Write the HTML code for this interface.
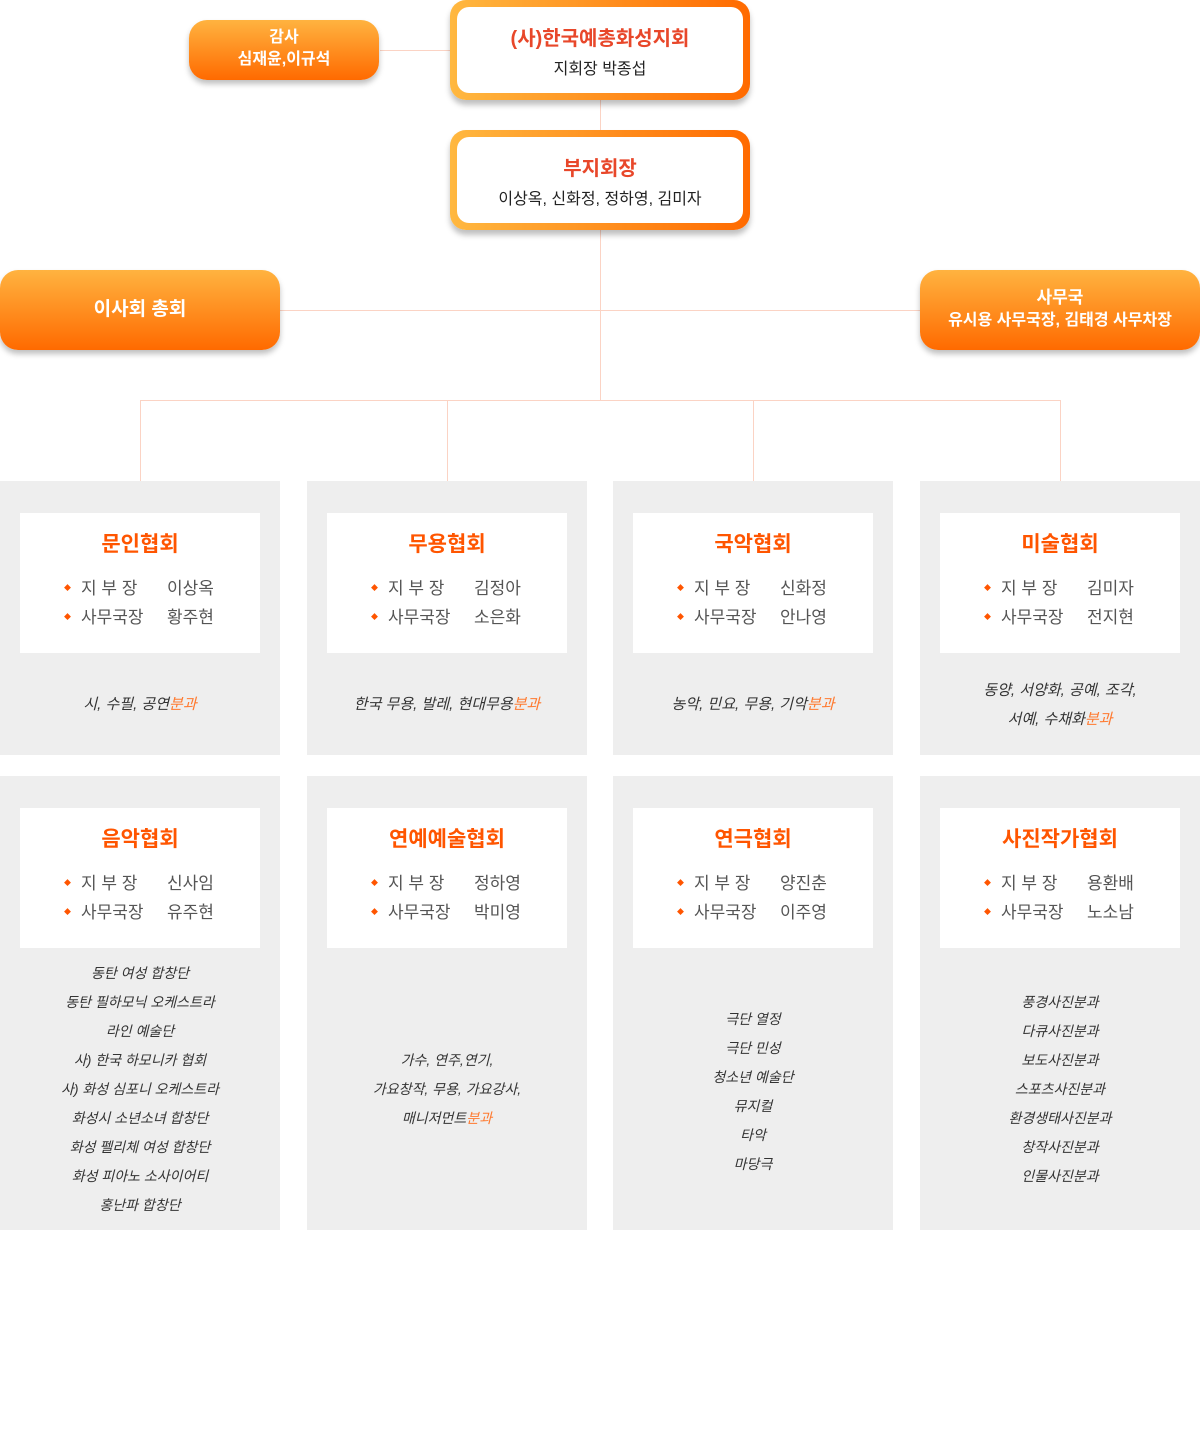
<!DOCTYPE html>
<html><head><meta charset="utf-8"><style>
*{margin:0;padding:0;box-sizing:border-box}
body{width:1200px;height:1455px;background:#fff;position:relative;font-family:"Liberation Sans","Noto Sans CJK KR",sans-serif;overflow:hidden}
.ln{position:absolute;background:#fbd3c4}
.ob{position:absolute;border-radius:18px;background:linear-gradient(#ffb340,#ff6a00);color:#fff;text-align:center;box-shadow:0 4px 6px rgba(0,0,0,.25);font-weight:bold}
.wb{position:absolute;border-radius:16px;background:linear-gradient(90deg,#ffb840,#ff6a00);padding:7px;box-shadow:0 5px 6px rgba(0,0,0,.25)}
.wb div.in{background:#fff;border-radius:12px;width:100%;height:100%;text-align:center}
.t{color:#e8472a;font-weight:bold;font-size:20px}
.s{color:#222;font-size:16px}
.p{position:absolute;background:#eeeeee;width:280px}
.w{position:absolute;left:20px;top:32px;width:240px;height:140px;background:#fff}
.h{text-align:center;color:#ff5500;font-weight:bold;font-size:21px;margin-top:15px}
.r{font-size:17px;color:#555;margin-left:44px;line-height:29px;margin-top:16px}
.r span{display:inline-block;width:86px}
.r i{font-style:normal;color:#ff5500;font-size:7px;margin-right:10px;vertical-align:4px}
.d{position:absolute;left:0;width:280px;text-align:center;font-size:15px;color:#333;line-height:29px;font-style:italic}
.d b{color:#ff7a30;font-weight:normal}
</style></head><body>
<div class="ln" style="left:380px;top:50px;width:72px;height:1px"></div>
<div class="ln" style="left:600px;top:98px;width:1px;height:302px"></div>
<div class="ln" style="left:280px;top:310px;width:640px;height:1px"></div>
<div class="ln" style="left:140px;top:400px;width:921px;height:1px"></div>
<div class="ln" style="left:140px;top:400px;width:1px;height:81px"></div>
<div class="ln" style="left:447px;top:400px;width:1px;height:81px"></div>
<div class="ln" style="left:753px;top:400px;width:1px;height:81px"></div>
<div class="ln" style="left:1060px;top:400px;width:1px;height:81px"></div>

<div class="ob" style="left:189px;top:20px;width:190px;height:60px;font-size:16px;line-height:22px;padding-top:7px">감사<br><span style="font-weight:600">심재윤,이규석</span></div>
<div class="wb" style="left:450px;top:0;width:300px;height:100px"><div class="in"><div class="t" style="padding-top:15px">(사)한국예총화성지회</div><div class="s" style="margin-top:4px">지회장 박종섭</div></div></div>
<div class="wb" style="left:450px;top:130px;width:300px;height:100px"><div class="in"><div class="t" style="padding-top:15px">부지회장</div><div class="s" style="margin-top:4px">이상옥, 신화정, 정하영, 김미자</div></div></div>
<div class="ob" style="left:0;top:270px;width:280px;height:80px;font-size:19px;line-height:80px">이사회 총회</div>
<div class="ob" style="left:920px;top:270px;width:280px;height:80px;font-size:17px;line-height:22px;padding-top:17px">사무국<br><span style="font-size:16px">유시용 사무국장, 김태경 사무차장</span></div>

<div class="p" style="left:0;top:481px;height:274px"><div class="w"><div class="h">문인협회</div><div class="r"><i>◆</i><span>지 부 장</span>이상옥<br><i>◆</i><span>사무국장</span>황주현</div></div><div class="d" style="top:209px">시, 수필, 공연<b>분과</b></div></div>
<div class="p" style="left:307px;top:481px;height:274px"><div class="w"><div class="h">무용협회</div><div class="r"><i>◆</i><span>지 부 장</span>김정아<br><i>◆</i><span>사무국장</span>소은화</div></div><div class="d" style="top:209px">한국 무용, 발레, 현대무용<b>분과</b></div></div>
<div class="p" style="left:613px;top:481px;height:274px"><div class="w"><div class="h">국악협회</div><div class="r"><i>◆</i><span>지 부 장</span>신화정<br><i>◆</i><span>사무국장</span>안나영</div></div><div class="d" style="top:209px">농악, 민요, 무용, 기악<b>분과</b></div></div>
<div class="p" style="left:920px;top:481px;height:274px"><div class="w"><div class="h">미술협회</div><div class="r"><i>◆</i><span>지 부 장</span>김미자<br><i>◆</i><span>사무국장</span>전지현</div></div><div class="d" style="top:195px">동양, 서양화, 공예, 조각,<br>서예, 수채화<b>분과</b></div></div>

<div class="p" style="left:0;top:776px;height:454px"><div class="w"><div class="h">음악협회</div><div class="r"><i>◆</i><span>지 부 장</span>신사임<br><i>◆</i><span>사무국장</span>유주현</div></div><div class="d" style="top:183px;font-size:14px">동탄 여성 합창단<br>동탄 필하모닉 오케스트라<br>라인 예술단<br>사) 한국 하모니카 협회<br>사) 화성 심포니 오케스트라<br>화성시 소년소녀 합창단<br>화성 펠리체 여성 합창단<br>화성 피아노 소사이어티<br>홍난파 합창단</div></div>
<div class="p" style="left:307px;top:776px;height:454px"><div class="w"><div class="h">연예예술협회</div><div class="r"><i>◆</i><span>지 부 장</span>정하영<br><i>◆</i><span>사무국장</span>박미영</div></div><div class="d" style="top:270px;font-size:14px">가수, 연주,연기,<br>가요창작, 무용, 가요강사,<br>매니저먼트<b>분과</b></div></div>
<div class="p" style="left:613px;top:776px;height:454px"><div class="w"><div class="h">연극협회</div><div class="r"><i>◆</i><span>지 부 장</span>양진춘<br><i>◆</i><span>사무국장</span>이주영</div></div><div class="d" style="top:229px;font-size:14px">극단 열정<br>극단 민성<br>청소년 예술단<br>뮤지컬<br>타악<br>마당극</div></div>
<div class="p" style="left:920px;top:776px;height:454px"><div class="w"><div class="h">사진작가협회</div><div class="r"><i>◆</i><span>지 부 장</span>용환배<br><i>◆</i><span>사무국장</span>노소남</div></div><div class="d" style="top:212px;font-size:14px">풍경사진분과<br>다큐사진분과<br>보도사진분과<br>스포츠사진분과<br>환경생태사진분과<br>창작사진분과<br>인물사진분과</div></div>
</body></html>
